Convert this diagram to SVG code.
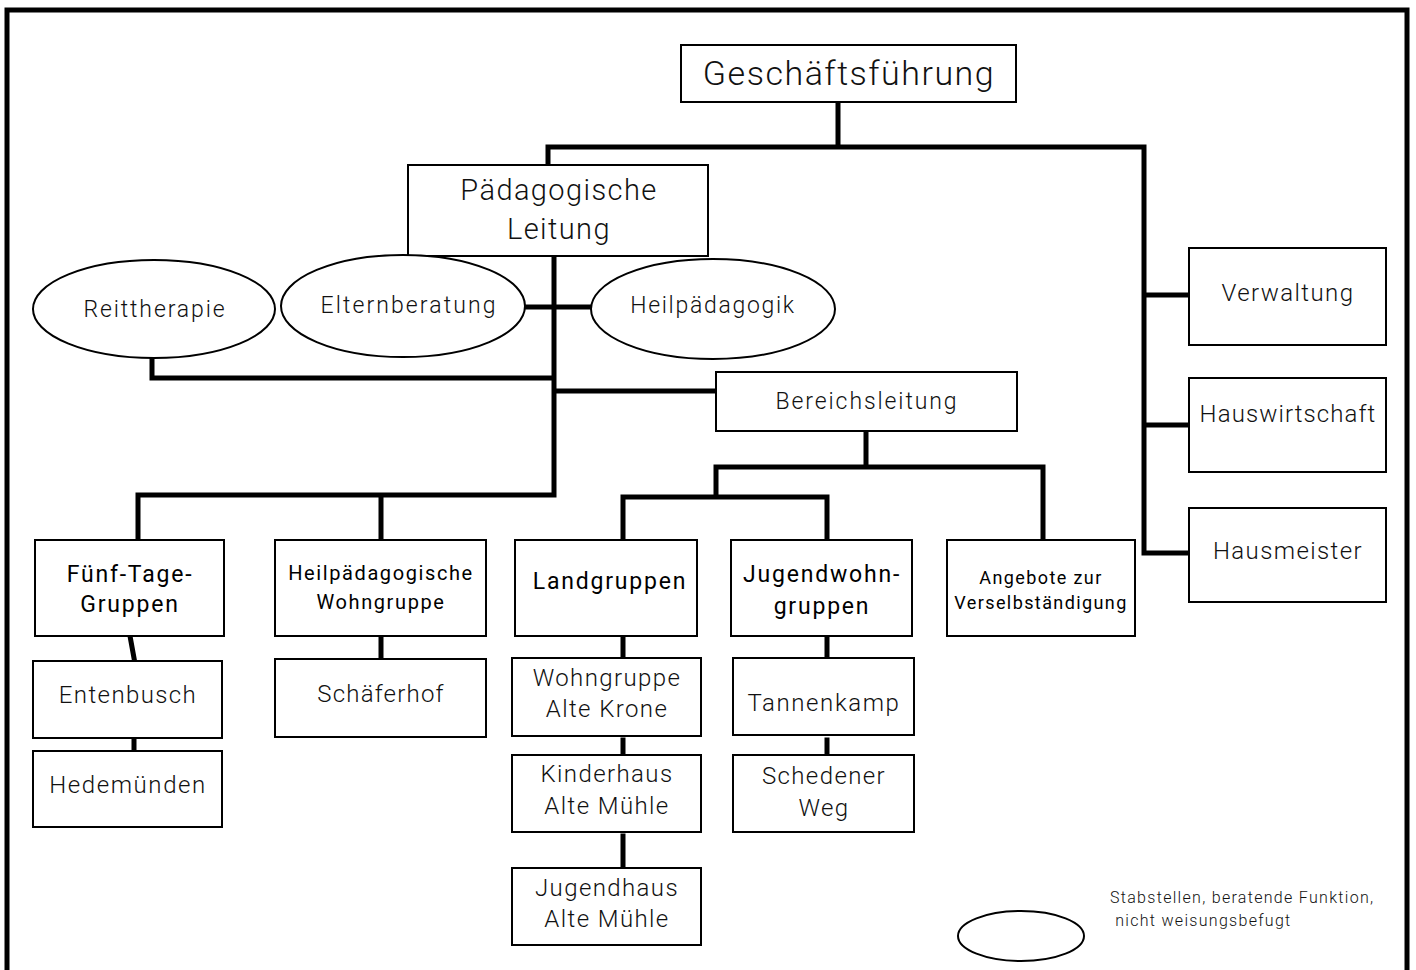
<svg xmlns="http://www.w3.org/2000/svg" width="1416" height="970" viewBox="0 0 1416 970">
<style>
.box{fill:#fff;stroke:#000;stroke-width:2}
.ell{fill:#fff;stroke:#000;stroke-width:2}
.c{fill:none;stroke:#000;stroke-width:5;stroke-linecap:square}
text{font-family:Roboto,"DejaVu Sans",sans-serif;font-weight:300;fill:#111;text-anchor:middle;letter-spacing:1.4px}
.b{font-weight:400;fill:#000;letter-spacing:1.8px}
.e{letter-spacing:1.9px}
</style>
<rect x="0" y="0" width="1416" height="970" fill="#fff"/>
<rect x="7" y="10" width="1400" height="980" fill="none" stroke="#000" stroke-width="5"/>
<g id="connectors">
<path class="c" d="M838 102V147M548 165V147H1144V553M1144 295H1189M1144 425H1189M1144 553H1189"/>
<path class="c" d="M554 256V495M526 307H592M152 356V378H554M554 391H716M138 540V495H554M381 495V540"/>
<path class="c" d="M866 431V467M1043 540V467H716V497M623 540V497H827V540"/>
<path class="c" d="M130 636L134 658M134 738V751M381 630V659M623 627V658M623 740V755M623 836V868M827 627V658M827 740V755"/>
</g>
<g id="n-gf"><rect class="box" x="681" y="45" width="335" height="57"/><text x="849" y="85" font-size="34" style="letter-spacing:1.5px">Geschäftsführung</text></g>
<g id="n-pl"><rect class="box" x="408" y="165" width="300" height="91"/><text x="559" y="200" font-size="29">Pädagogische</text><text x="559" y="239" font-size="29">Leitung</text></g>
<g id="n-reit"><ellipse class="ell" cx="154" cy="309" rx="121" ry="49"/><text class="e" x="155" y="317" font-size="23">Reittherapie</text></g>
<g id="n-eltern"><ellipse class="ell" cx="403" cy="306" rx="122" ry="51"/><text class="e" x="409" y="313" font-size="23" style="letter-spacing:2.1px">Elternberatung</text></g>
<g id="n-heil"><ellipse class="ell" cx="713" cy="309" rx="122" ry="50"/><text class="e" x="713" y="313" font-size="23" style="letter-spacing:1.7px">Heilpädagogik</text></g>
<g id="n-bl"><rect class="box" x="716" y="372" width="301" height="59"/><text class="e" x="867" y="409" font-size="23">Bereichsleitung</text></g>
<g id="n-verw"><rect class="box" x="1189" y="248" width="197" height="97"/><text x="1288" y="301" font-size="24">Verwaltung</text></g>
<g id="n-hw"><rect class="box" x="1189" y="378" width="197" height="94"/><text x="1288" y="422" font-size="24" style="letter-spacing:1.1px">Hauswirtschaft</text></g>
<g id="n-hm"><rect class="box" x="1189" y="508" width="197" height="94"/><text x="1288" y="559" font-size="24">Hausmeister</text></g>
<g id="n-ftg"><rect class="box" x="35" y="540" width="189" height="96"/><text class="b" x="130" y="582" font-size="23">Fünf-Tage-</text><text class="b" x="130" y="612" font-size="23">Gruppen</text></g>
<g id="n-hwg"><rect class="box" x="275" y="540" width="211" height="96"/><text class="b" x="381" y="580" font-size="20" style="letter-spacing:1.6px">Heilpädagogische</text><text class="b" x="381" y="609" font-size="20" style="letter-spacing:1.6px">Wohngruppe</text></g>
<g id="n-land"><rect class="box" x="515" y="540" width="182" height="96"/><text class="b" x="610" y="589" font-size="23">Landgruppen</text></g>
<g id="n-jwg"><rect class="box" x="731" y="540" width="181" height="96"/><text class="b" x="822" y="582" font-size="23">Jugendwohn-</text><text class="b" x="822" y="614" font-size="23">gruppen</text></g>
<g id="n-ang"><rect class="box" x="947" y="540" width="188" height="96"/><text class="b" x="1041" y="584" font-size="18" style="letter-spacing:1.4px">Angebote zur</text><text class="b" x="1041" y="609" font-size="18" style="letter-spacing:1.4px">Verselbständigung</text></g>
<g id="n-ent"><rect class="box" x="33" y="661" width="189" height="77"/><text x="128" y="703" font-size="24">Entenbusch</text></g>
<g id="n-hed"><rect class="box" x="33" y="751" width="189" height="76"/><text x="128" y="793" font-size="24" style="letter-spacing:1.6px">Hedemünden</text></g>
<g id="n-schaef"><rect class="box" x="275" y="659" width="211" height="78"/><text x="381" y="702" font-size="24" style="letter-spacing:1.2px">Schäferhof</text></g>
<g id="n-wak"><rect class="box" x="512" y="658" width="189" height="78"/><text x="607" y="686" font-size="24">Wohngruppe</text><text x="607" y="717" font-size="24">Alte Krone</text></g>
<g id="n-kam"><rect class="box" x="512" y="755" width="189" height="77"/><text x="607" y="782" font-size="24">Kinderhaus</text><text x="607" y="814" font-size="24">Alte Mühle</text></g>
<g id="n-jam"><rect class="box" x="512" y="868" width="189" height="77"/><text x="607" y="896" font-size="24">Jugendhaus</text><text x="607" y="927" font-size="24">Alte Mühle</text></g>
<g id="n-tann"><rect class="box" x="733" y="658" width="181" height="77"/><text x="824" y="711" font-size="24" style="letter-spacing:1.6px">Tannenkamp</text></g>
<g id="n-sched"><rect class="box" x="733" y="755" width="181" height="77"/><text x="824" y="784" font-size="24">Schedener</text><text x="824" y="816" font-size="24">Weg</text></g>
<g id="legend"><ellipse class="ell" cx="1021" cy="936" rx="63" ry="25"/><text x="1110" y="903" font-size="16" style="text-anchor:start;letter-spacing:1.3px">Stabstellen, beratende Funktion,</text><text x="1110" y="926" font-size="16" style="text-anchor:start;letter-spacing:1.3px" xml:space="preserve"> nicht weisungsbefugt</text></g>
</svg>
